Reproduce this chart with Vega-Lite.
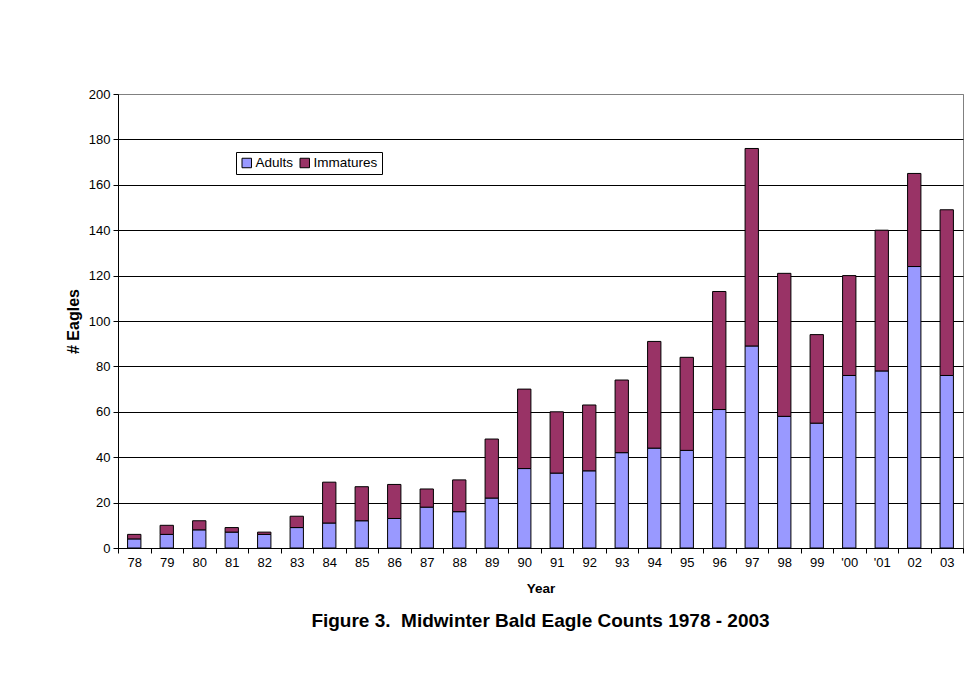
{
  "$schema": "https://vega.github.io/schema/vega-lite/v6.json",
  "width": 845,
  "height": 454,
  "autosize": {"type": "none"},
  "padding": {"left": 118, "top": 94, "right": 12, "bottom": 148},
  "background": "white",
  "title": {
    "text": "Figure 3.\u00a0 Midwinter Bald Eagle Counts 1978 - 2003",
    "orient": "bottom",
    "anchor": "middle",
    "font": "Liberation Sans",
    "fontSize": 19,
    "fontWeight": "bold",
    "color": "black",
    "offset": 17
  },
  "config": {
    "view": {"stroke": "#808080", "strokeWidth": 1},
    "font": "Liberation Sans"
  },
  "data": {
    "values": [
      {"year": "78", "series": "Adults", "count": 4}, {"year": "78", "series": "Immatures", "count": 2},
      {"year": "79", "series": "Adults", "count": 6}, {"year": "79", "series": "Immatures", "count": 4},
      {"year": "80", "series": "Adults", "count": 8}, {"year": "80", "series": "Immatures", "count": 4},
      {"year": "81", "series": "Adults", "count": 7}, {"year": "81", "series": "Immatures", "count": 2},
      {"year": "82", "series": "Adults", "count": 6}, {"year": "82", "series": "Immatures", "count": 1},
      {"year": "83", "series": "Adults", "count": 9}, {"year": "83", "series": "Immatures", "count": 5},
      {"year": "84", "series": "Adults", "count": 11}, {"year": "84", "series": "Immatures", "count": 18},
      {"year": "85", "series": "Adults", "count": 12}, {"year": "85", "series": "Immatures", "count": 15},
      {"year": "86", "series": "Adults", "count": 13}, {"year": "86", "series": "Immatures", "count": 15},
      {"year": "87", "series": "Adults", "count": 18}, {"year": "87", "series": "Immatures", "count": 8},
      {"year": "88", "series": "Adults", "count": 16}, {"year": "88", "series": "Immatures", "count": 14},
      {"year": "89", "series": "Adults", "count": 22}, {"year": "89", "series": "Immatures", "count": 26},
      {"year": "90", "series": "Adults", "count": 35}, {"year": "90", "series": "Immatures", "count": 35},
      {"year": "91", "series": "Adults", "count": 33}, {"year": "91", "series": "Immatures", "count": 27},
      {"year": "92", "series": "Adults", "count": 34}, {"year": "92", "series": "Immatures", "count": 29},
      {"year": "93", "series": "Adults", "count": 42}, {"year": "93", "series": "Immatures", "count": 32},
      {"year": "94", "series": "Adults", "count": 44}, {"year": "94", "series": "Immatures", "count": 47},
      {"year": "95", "series": "Adults", "count": 43}, {"year": "95", "series": "Immatures", "count": 41},
      {"year": "96", "series": "Adults", "count": 61}, {"year": "96", "series": "Immatures", "count": 52},
      {"year": "97", "series": "Adults", "count": 89}, {"year": "97", "series": "Immatures", "count": 87},
      {"year": "98", "series": "Adults", "count": 58}, {"year": "98", "series": "Immatures", "count": 63},
      {"year": "99", "series": "Adults", "count": 55}, {"year": "99", "series": "Immatures", "count": 39},
      {"year": "'00", "series": "Adults", "count": 76}, {"year": "'00", "series": "Immatures", "count": 44},
      {"year": "'01", "series": "Adults", "count": 78}, {"year": "'01", "series": "Immatures", "count": 62},
      {"year": "02", "series": "Adults", "count": 124}, {"year": "02", "series": "Immatures", "count": 41},
      {"year": "03", "series": "Adults", "count": 76}, {"year": "03", "series": "Immatures", "count": 73}
    ]
  },
  "mark": {"type": "bar", "width": {"band": 0.41}, "stroke": "black", "strokeWidth": 1},
  "encoding": {
    "x": {
      "field": "year",
      "type": "nominal",
      "sort": null,
      "scale": {"paddingInner": 0, "paddingOuter": 0},
      "axis": {
        "title": "Year",
        "titleFont": "Liberation Sans",
        "titleFontSize": 13.5,
        "titleFontWeight": "bold",
        "titleColor": "black",
        "titlePadding": 12,
        "labelAngle": 0,
        "labelFont": "Liberation Sans",
        "labelFontSize": 13,
        "labelColor": "black",
        "labelPadding": 3,
        "tickBand": "extent",
        "tickSize": 5,
        "tickColor": "black",
        "domainColor": "black",
        "grid": false
      }
    },
    "y": {
      "field": "count",
      "type": "quantitative",
      "stack": "zero",
      "scale": {"domain": [0, 200], "nice": false},
      "axis": {
        "title": "# Eagles",
        "titleFont": "Liberation Sans",
        "titleFontSize": 16,
        "titleFontWeight": "bold",
        "titleColor": "black",
        "titlePadding": 7,
        "values": [0, 20, 40, 60, 80, 100, 120, 140, 160, 180, 200],
        "labelFont": "Liberation Sans",
        "labelFontSize": 13,
        "labelColor": "black",
        "labelPadding": 3,
        "tickSize": 5,
        "tickColor": "black",
        "domainColor": "black",
        "grid": true,
        "gridColor": {"condition": {"test": "datum.value === 200", "value": "#808080"}, "value": "black"},
        "gridWidth": 1
      }
    },
    "color": {
      "field": "series",
      "type": "nominal",
      "scale": {"domain": ["Adults", "Immatures"], "range": ["#9999FF", "#993366"]},
      "legend": {
        "title": null,
        "orient": "none",
        "legendX": 118,
        "legendY": 58,
        "direction": "horizontal",
        "symbolType": "square",
        "symbolSize": 90,
        "symbolStrokeColor": "black",
        "symbolStrokeWidth": 1,
        "symbolOpacity": 1,
        "labelFont": "Liberation Sans",
        "labelFontSize": 13.5,
        "labelColor": "black",
        "labelOffset": 2,
        "columnPadding": 4,
        "strokeColor": "black",
        "fillColor": "white",
        "padding": 4
      }
    },
    "order": {"field": "series", "sort": "ascending"}
  }
}
